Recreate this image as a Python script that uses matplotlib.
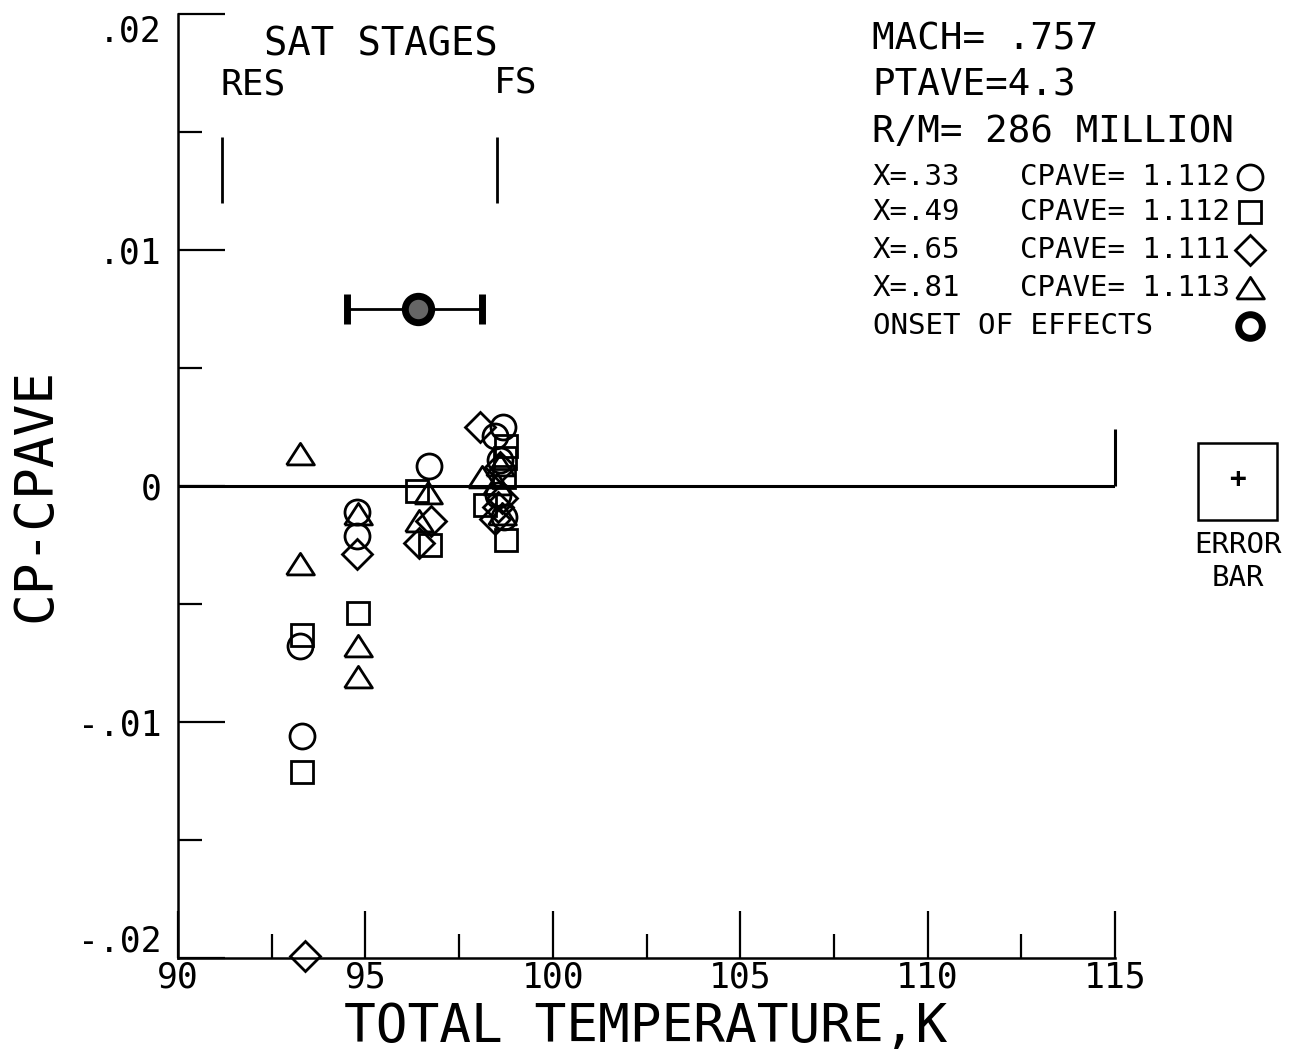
import matplotlib
matplotlib.use('Agg')
import matplotlib.pyplot as plt
import matplotlib.patches as mpatches
import numpy as np

# values: total temperature (K) and CP-CPAVE for each station
x33_temp = [93.25, 93.3, 94.77, 94.77, 96.69, 98.67, 98.45, 98.6, 98.55, 98.7]
x33_dcp = [-0.0068, -0.0106, -0.0011, -0.0021, 0.00085, 0.0025, 0.0021, 0.0011, -0.0004, -0.0013]

x49_temp = [93.3, 93.3, 94.8, 96.37, 96.72, 98.75, 98.72, 98.2, 98.75, 98.7]
x49_dcp = [-0.0063, -0.0121, -0.0054, -0.0002, -0.0025, 0.0017, 0.0012, -0.0008, -0.0023, 0.0004]

x65_temp = [93.39, 94.77, 96.75, 96.43, 98.05, 98.6, 98.65, 98.45, 98.55]
x65_dcp = [-0.0199, -0.0029, -0.0015, -0.0024, 0.0025, 0.0008, -0.0005, -0.0014, -0.0009]

x81_temp = [93.25, 93.25, 94.8, 94.8, 94.8, 96.67, 96.43, 98.1, 98.6, 98.65, 98.5]
x81_dcp = [0.00135, -0.0033, -0.0012, -0.0068, -0.0081, -0.0003, -0.0015, 0.0004, 0.0009, -0.0012, 0.0001]

onset_temp = 96.4
onset_dcp = 0.0075
onset_lo = 94.5
onset_hi = 98.1

res_temp = 91.17
fs_temp = 98.5
stage_mark = [0.0120, 0.0148]

station_labels = ['X=.33', 'X=.49', 'X=.65', 'X=.81']
cpave_labels = ['CPAVE= 1.112', 'CPAVE= 1.112', 'CPAVE= 1.111', 'CPAVE= 1.113']

xticks = [90, 95, 100, 105, 110, 115]
yticks = [-0.02, -0.01, 0.0, 0.01, 0.02]
ytick_labels = ['-.02', '-.01', '0', '.01', '.02']

W, H = 1292, 1055
def fx(px):
    return px / W
def fy(py):
    return 1 - py / H

plt.rcParams['font.family'] = ['DejaVu Sans Mono', 'DejaVu Sans']

fig = plt.figure(figsize=(12.92, 10.55), dpi=100)
ax = fig.add_axes([fx(178), fy(958), fx(1115) - fx(178), fy(14) - fy(958)])

tri = [(-1, -0.75), (1, -0.75), (0, 0.8), (-1, -0.75)]
styles = [('o', 18), ('s', 16), ('D', 15), (tri, 20)]
series = [(x33_temp, x33_dcp), (x49_temp, x49_dcp), (x65_temp, x65_dcp), (x81_temp, x81_dcp)]

for (t, d), (m, ms) in zip(series, styles):
    ax.plot(t, d, linestyle='none', marker=m, markersize=ms, mfc='none',
            mec='black', mew=2, clip_on=False, zorder=3)

# onset of effects with its error bar
ax.errorbar([onset_temp], [onset_dcp],
            xerr=[[onset_temp - onset_lo], [onset_hi - onset_temp]],
            fmt='o', ms=19, mfc='0.4', mec='black', mew=5,
            ecolor='black', elinewidth=2, capsize=11, capthick=2, zorder=4)

# saturation stage marks
ax.vlines([res_temp, fs_temp], stage_mark[0], stage_mark[1], color='black', lw=2)
ax.text(95.4, 0.0187, 'SAT STAGES', fontsize=28, ha='center', va='center')
ax.text(92.0, 0.0170, 'RES', fontsize=26, ha='center', va='center')
ax.text(99.0, 0.0171, 'FS', fontsize=26, ha='center', va='center')

# zero line with end stub
ax.axhline(0, color='black', lw=2.2, zorder=2)
ax.vlines(115, 0, 0.0024, color='black', lw=2.2, clip_on=False)

ax.set_xlim(90, 115)
ax.set_ylim(-0.02, 0.02)
ax.set_xticks(xticks)
ax.set_xticks(np.arange(92.5, 115, 5), minor=True)
ax.set_yticks(yticks)
ax.set_yticklabels(ytick_labels)
ax.set_yticks([-0.015, -0.005, 0.005, 0.015], minor=True)
ax.tick_params(which='major', direction='in', length=34, width=1.6, labelsize=25)
ax.tick_params(which='minor', direction='in', length=17, width=1.6)
ax.tick_params(axis='y', pad=12)
ax.tick_params(axis='x', pad=2)
ylabs = ax.get_yticklabels()
ylabs[0].set_va('bottom')
ylabs[-1].set_va('top')
for s in ['top', 'right']:
    ax.spines[s].set_visible(False)
for s in ['left', 'bottom']:
    ax.spines[s].set_linewidth(1.8)

fig.text(fx(646), fy(1027), 'TOTAL TEMPERATURE,K', fontsize=38, ha='center', va='center')
fig.text(fx(35), fy(495), 'CP-CPAVE', fontsize=38, rotation=90, ha='center', va='center')

# header block
fig.text(fx(872), fy(40), 'MACH= .757', fontsize=27, va='center')
fig.text(fx(872), fy(85), 'PTAVE=4.3', fontsize=27, va='center')
fig.text(fx(872), fy(132), 'R/M= 286 MILLION', fontsize=27, va='center')

row_y = [177, 212, 250, 288]
for i in range(4):
    fig.text(fx(873), fy(row_y[i]), station_labels[i], fontsize=21, va='center')
    fig.text(fx(1020), fy(row_y[i]), cpave_labels[i], fontsize=21, va='center')
    m, ms = styles[i]
    ax.plot([fx(1250)], [fy(row_y[i])], transform=fig.transFigure, marker=m,
            markersize=ms, mfc='none', mec='black', mew=2, clip_on=False)
fig.text(fx(873), fy(326), 'ONSET OF EFFECTS', fontsize=21, va='center')
ax.plot([fx(1250)], [fy(326)], transform=fig.transFigure, marker='o', markersize=17,
        mfc='white', mec='black', mew=5, clip_on=False)

# error bar box
box = mpatches.Rectangle((fx(1198), fy(520)), fx(1277) - fx(1198), fy(443) - fy(520),
                         transform=fig.transFigure, fill=False, lw=1.8, ec='black')
fig.add_artist(box)
fig.text(fx(1238), fy(479), '+', fontsize=20, fontweight='bold', ha='center', va='center')
fig.text(fx(1238), fy(545), 'ERROR', fontsize=21, ha='center', va='center')
fig.text(fx(1238), fy(578), 'BAR', fontsize=21, ha='center', va='center')

fig.savefig('out.png', dpi=100)
